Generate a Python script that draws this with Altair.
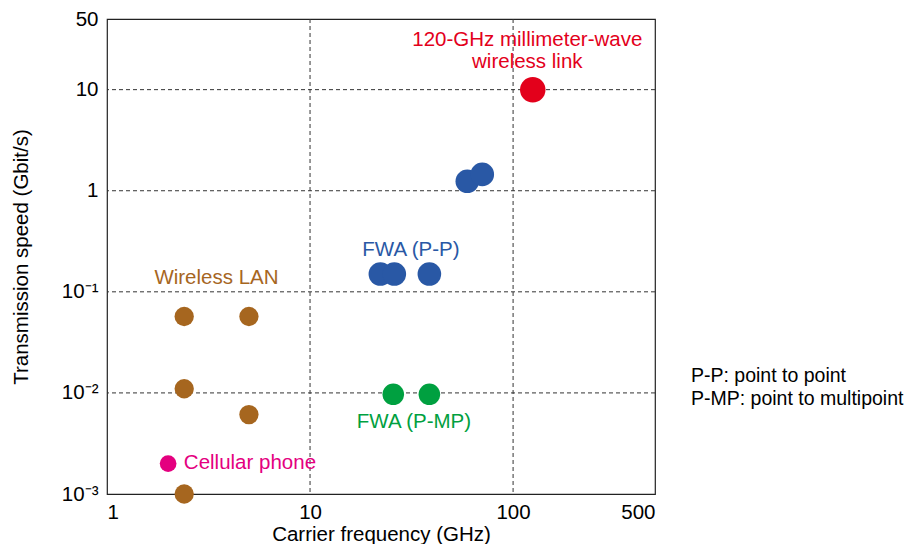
import altair as alt
import pandas as pd

# ---- data ----
freq_ghz = [125, 59.5, 70.5, 22.2, 26.0, 38.7, 25.7, 38.7, 2.4, 5.0, 2.4, 5.0, 2.4, 2.0]
speed_gbps = [10, 1.24, 1.45, 0.15, 0.15, 0.15, 0.0097, 0.0097, 0.057, 0.057, 0.011, 0.0061, 0.001, 0.002]
system = ["120-GHz link",
          "FWA (P-P)", "FWA (P-P)", "FWA (P-P)", "FWA (P-P)", "FWA (P-P)",
          "FWA (P-MP)", "FWA (P-MP)",
          "Wireless LAN", "Wireless LAN", "Wireless LAN", "Wireless LAN", "Wireless LAN",
          "Cellular phone"]

groups = ["120-GHz link", "FWA (P-P)", "FWA (P-MP)", "Wireless LAN", "Cellular phone"]
group_colors = ["#E3001B", "#2958A5", "#00A040", "#A6661F", "#E4007F"]
group_sizes = [650, 280, 280, 280, 260]

label_text = ["120-GHz millimeter-wave", "wireless link", "FWA (P-P)", "FWA (P-MP)", "Wireless LAN", "Cellular phone"]
label_group = ["120-GHz link", "120-GHz link", "FWA (P-P)", "FWA (P-MP)", "Wireless LAN", "Cellular phone"]
label_x = [117.5, 117.5, 31.4, 32.5, 3.46, 2.39]
label_y = [30.9, 18.7, 0.26, 0.00514, 0.137, 0.00201]

x_ticks = [1, 10, 100, 500]
y_ticks = [0.001, 0.01, 0.1, 1, 10, 50]
y_tick_labels = ["10⁻³", "10⁻²", "10⁻¹", "1", "10", "50"]
x_grid = [10, 100]
y_grid = [10, 1, 0.1, 0.01]

notes = ["P-P: point to point", "P-MP: point to multipoint"]

FONT = "Liberation Sans"
FS = 20.5
W, H = 548, 475

pts = pd.DataFrame({"f": freq_ghz, "s": speed_gbps, "g": system})
labels = pd.DataFrame({"t": label_text, "g": label_group, "f": label_x, "s": label_y})
left_labels = labels[labels.t == "Cellular phone"]
center_labels = labels[labels.t != "Cellular phone"]

xscale = alt.Scale(type="log", domain=[1, 500], nice=False)
yscale = alt.Scale(type="log", domain=[0.001, 50], nice=False)
cscale = alt.Scale(domain=groups, range=group_colors)
sscale = alt.Scale(domain=groups, range=group_sizes)

label_expr = " : ".join(
    f"datum.value == {v} ? '{t}'" for v, t in zip(y_ticks, y_tick_labels)
) + " : ''"

xaxis = alt.Axis(values=x_ticks, format="d", grid=False, ticks=False, domain=False,
                 labelFont=FONT, labelFontSize=FS, labelColor="black", labelPadding=8,
                 title="Carrier frequency (GHz)", titleFont=FONT, titleFontSize=FS,
                 titleFontWeight="normal", titleColor="black",
                 titleY=46, titleBaseline="alphabetic")
yaxis = alt.Axis(values=y_ticks, labelExpr=label_expr, grid=False, ticks=False, domain=False,
                 labelFont=FONT, labelFontSize=FS, labelColor="black", labelPadding=9,
                 title="Transmission speed (Gbit/s)", titleFont=FONT, titleFontSize=FS,
                 titleFontWeight="normal", titleColor="black",
                 titleX=-86, titleY=H / 2, titleAngle=-90, titleAlign="center",
                 titleBaseline="middle")


def X(field):
    return alt.X(field, scale=xscale, axis=xaxis)


def Y(field):
    return alt.Y(field, scale=yscale, axis=yaxis)


base_pts = alt.Chart(pts).mark_circle(opacity=1).encode(
    x=X("f:Q"), y=Y("s:Q"),
    color=alt.Color("g:N", scale=cscale, legend=None),
    size=alt.Size("g:N", scale=sscale, legend=None),
)

vgrid = alt.Chart(pd.DataFrame({"f": x_grid})).mark_rule(
    strokeDash=[4, 3], color="#333333", strokeWidth=1
).encode(x=X("f:Q"))
hgrid = alt.Chart(pd.DataFrame({"s": y_grid})).mark_rule(
    strokeDash=[4, 3], color="#333333", strokeWidth=1
).encode(y=Y("s:Q"))

txt_c = alt.Chart(center_labels).mark_text(
    font=FONT, fontSize=FS, align="center", baseline="middle"
).encode(
    x=X("f:Q"), y=Y("s:Q"), text="t:N",
    color=alt.Color("g:N", scale=cscale, legend=None),
)
txt_l = alt.Chart(left_labels).mark_text(
    font=FONT, fontSize=FS, align="left", baseline="middle"
).encode(
    x=X("f:Q"), y=Y("s:Q"), text="t:N",
    color=alt.Color("g:N", scale=cscale, legend=None),
)

note_layers = []
for i, t in enumerate(notes):
    note_layers.append(
        alt.Chart(pd.DataFrame({"t": [t]})).mark_text(
            font=FONT, fontSize=19.5, align="left", baseline="middle", color="black"
        ).encode(x=alt.value(584), y=alt.value(357 + 23 * i), text="t:N")
    )

chart = alt.layer(vgrid, hgrid, base_pts, txt_c, txt_l, *note_layers).properties(
    width=W, height=H,
    autosize=alt.AutoSizeParams(type="none"),
    padding={"left": 99, "top": 11, "right": 256, "bottom": 50},
).configure_view(stroke="#222222", strokeWidth=1.2)

chart.save("out.html", embed_options={"renderer": "svg", "actions": False})
